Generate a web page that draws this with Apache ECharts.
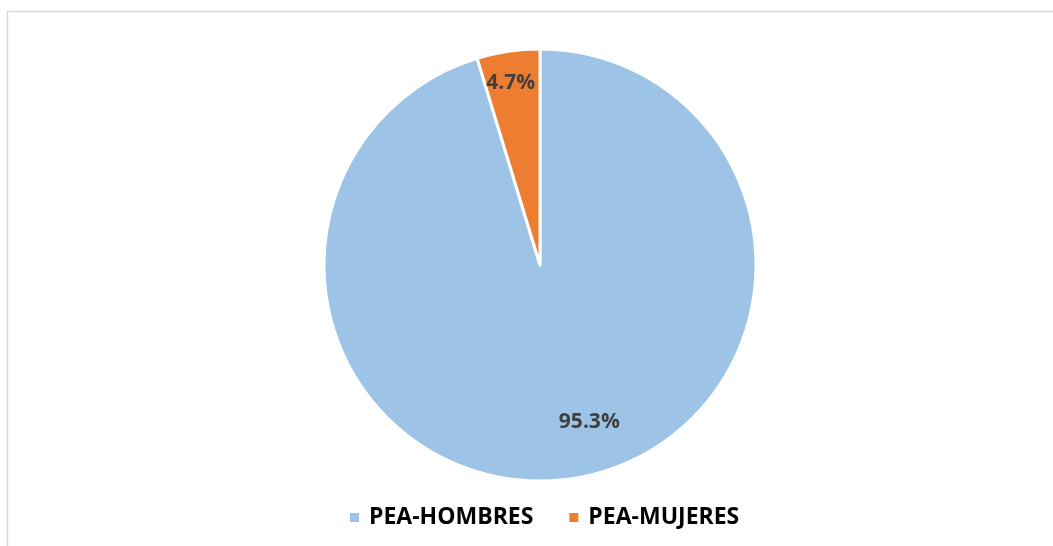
<!DOCTYPE html>
<html>
<head>
<meta charset="utf-8">
<script src="https://cdn.jsdelivr.net/npm/echarts@6/dist/echarts.min.js"></script>
<style>
  html, body { margin: 0; padding: 0; background: #fff; }
  #chart { width: 1053px; height: 546px; }
</style>
</head>
<body>
<div id="chart"></div>
<script>
let categories = ['PEA-HOMBRES', 'PEA-MUJERES'];
let values = [95.3, 4.7];
let colors = ['#9dc3e6', '#ed7d31'];

let pie = {};
pie.echart = echarts.init(document.getElementById('chart'));
pie.load = function() {
  let ds = [];
  for (let i = 0; i < categories.length; i++) {
    ds.push({ name: categories[i], value: values[i], itemStyle: { color: colors[i] } });
  }
  // excel puts the labels further out than echarts does
  let shift = [[33, 47], [-13, -72]];
  this.echart.setOption({
    animation: false,
    graphic: [{
      type: 'rect',
      shape: { x: 7.5, y: 11.5, width: 1200, height: 700 },
      style: { fill: 'none', stroke: '#d9d9d9', lineWidth: 1.5 },
      silent: true
    }],
    legend: {
      data: categories,
      left: 343,
      top: 501,
      icon: 'rect',
      itemWidth: 11,
      itemHeight: 11,
      itemGap: 34,
      textStyle: {
        fontFamily: 'Open Sans',
        fontWeight: 'bold',
        fontSize: 23,
        color: '#000',
        padding: [0, 0, 0, 4]
      }
    },
    series: {
      type: 'pie',
      center: [540, 265],
      radius: [0, 216],
      startAngle: 90,
      clockwise: true,
      avoidLabelOverlap: false,
      itemStyle: { borderColor: '#fff', borderWidth: 3 },
      label: {
        show: true,
        position: 'inside',
        fontFamily: 'Open Sans',
        fontWeight: 'bold',
        fontSize: 21,
        color: '#404040',
        formatter: function(p) {
          return p.value.toFixed(1) + '%';
        }
      },
      labelLayout: function(p) {
        return { dx: shift[p.dataIndex][0], dy: shift[p.dataIndex][1] };
      },
      labelLine: { show: false },
      emphasis: { disabled: true },
      data: ds
    }
  });
};
pie.load();
</script>
</body>
</html>
